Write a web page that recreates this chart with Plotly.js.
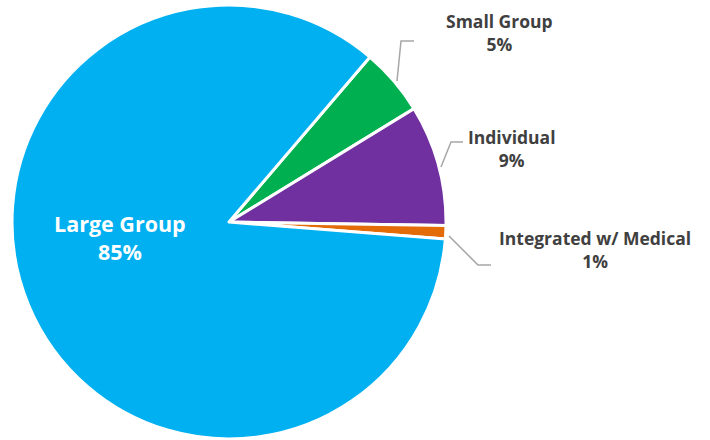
<!DOCTYPE html>
<html>
<head>
<meta charset="utf-8">
<script src="https://cdn.plot.ly/plotly-3.0.1.min.js"></script>
<style>html,body{margin:0;padding:0;background:#fff;}#chart{width:710px;height:440px;}</style>
</head>
<body>
<div id="chart"></div>
<script>
const categories = ["Small Group", "Individual", "Integrated w/ Medical", "Large Group"];
const values = [5, 9, 1, 85];
const percentLabels = ["5%", "9%", "1%", "85%"];
const colors = ["#00B050", "#7030A0", "#E36C09", "#00B0F0"];

const trace = {
  type: "pie",
  labels: categories,
  values: values,
  sort: false,
  direction: "clockwise",
  rotation: 40.5,
  marker: { colors: colors, line: { color: "#ffffff", width: 3 } },
  textinfo: "none",
  hoverinfo: "label+percent",
  domain: { x: [0.0169, 0.6282], y: [0.0023, 0.9886] },
  showlegend: false
};

const fontFamily = "'Open Sans', Lato, sans-serif";
const labelFont = { family: fontFamily, size: 17.5, color: "#404040", weight: "bold" };
const bigFont = { family: fontFamily, size: 21.5, color: "#ffffff", weight: "bold" };
// label placements (pixel centres)
const labelPos = [
  { i: 0, x: 500, y: 32, font: labelFont },
  { i: 1, x: 512, y: 148, font: labelFont },
  { i: 2, x: 595, y: 249, font: labelFont },
  { i: 3, x: 120, y: 237, font: bigFont }
];
const annotations = labelPos.map(o => ({
  xref: "paper", yref: "paper",
  x: o.x / 710, y: 1 - o.y / 440,
  text: categories[o.i] + "<br>" + percentLabels[o.i],
  showarrow: false, font: o.font, align: "center",
  xanchor: "center", yanchor: "middle"
}));

const leaderPaths = [
  [[397, 81], [401, 41], [414, 41]],
  [[441, 167], [451, 142], [463, 142]],
  [[449, 236], [478, 265], [491, 265]]
];
const shapes = leaderPaths.map(p => ({
  type: "path", xref: "paper", yref: "paper",
  path: p.map((pt, k) => (k ? "L" : "M") + (pt[0] / 710).toFixed(5) + "," + (1 - pt[1] / 440).toFixed(5)).join(" "),
  line: { color: "#A6A6A6", width: 1.5 }
}));

const layout = {
  width: 710, height: 440,
  margin: { l: 0, r: 0, t: 0, b: 0 },
  paper_bgcolor: "#ffffff",
  annotations: annotations,
  shapes: shapes
};

Plotly.newPlot("chart", [trace], layout, { displayModeBar: false, staticPlot: true });
</script>
</body>
</html>
